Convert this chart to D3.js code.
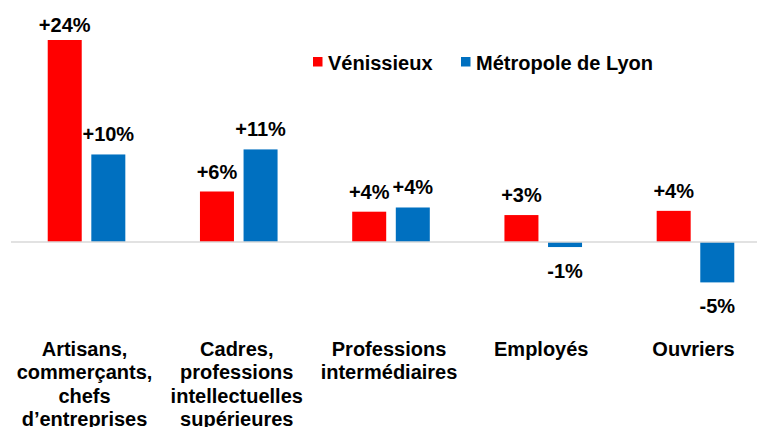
<!DOCTYPE html>
<html lang="fr">
<head>
  <meta charset="UTF-8">
  <title>Evolution CSP</title>
  <script src="https://d3js.org/d3.v7.min.js"></script>
  <style>
    body { margin: 0; background: #fff; }
    text { font-family: "Liberation Sans", Arial, sans-serif; font-weight: bold; fill: #000; }
  </style>
</head>
<body>
  <div id="root"></div>
  <script>
    const categories = ['Artisans', 'Cadres', 'Professions', 'Employes', 'Ouvriers'];
    const categoryLines = [
      ['Artisans,', 'commerçants,', 'chefs', 'd’entreprises'],
      ['Cadres,', 'professions', 'intellectuelles', 'supérieures'],
      ['Professions', 'intermédiaires'],
      ['Employés'],
      ['Ouvriers']
    ];
    const series = ['Vénissieux', 'Métropole de Lyon'];
    const colors = ['#ff0000', '#0070c0'];
    const venissieux = [24, 6, 3.6, 3.2, 3.7];
    const metropole = [10.4, 11, 4.1, -0.6, -4.8];

    const width = 757, height = 427;
    const svg = d3.select('#root').append('svg')
      .attr('width', width).attr('height', height);

    const x0 = d3.scaleBand().domain(categories).range([10.4, 771.6]);
    const x1 = d3.scaleBand().domain(series).range([0, x0.bandwidth()])
      .paddingInner(0.22).paddingOuter(0.856);
    const y = d3.scaleLinear().domain([0, 24]).range([242, 40]);

    const rows = categories.map((c, i) => ({
      cat: c,
      vals: [
        { s: series[0], v: venissieux[i], color: colors[0] },
        { s: series[1], v: metropole[i], color: colors[1] }
      ]
    }));

    const fmt = v => (v > 0 ? '+' : '') + Math.round(v) + '%';

    const g = svg.selectAll('g.grp').data(rows).enter().append('g')
      .attr('class', 'grp')
      .attr('transform', d => `translate(${x0(d.cat)},0)`);

    g.selectAll('rect').data(d => d.vals).enter().append('rect')
      .attr('x', d => x1(d.s))
      .attr('width', x1.bandwidth())
      .attr('y', d => y(Math.max(0, d.v)))
      .attr('height', d => Math.abs(y(d.v) - y(0)))
      .attr('fill', d => d.color);

    g.selectAll('text.val').data(d => d.vals).enter().append('text')
      .attr('class', 'val')
      .attr('x', d => x1(d.s) + x1.bandwidth() / 2)
      .attr('y', d => d.v >= 0 ? Math.max(32, y(d.v) - 13) : y(d.v) + 31)
      .attr('text-anchor', 'middle')
      .style('font-size', '20px')
      .text(d => fmt(d.v));

    // zero line
    svg.append('line')
      .attr('x1', 11).attr('x2', width)
      .attr('y1', y(0)).attr('y2', y(0))
      .attr('stroke', '#d9d9d9').attr('stroke-width', 1.5);

    // category labels
    const lab = svg.selectAll('text.cat').data(categories).enter().append('text')
      .attr('class', 'cat')
      .attr('text-anchor', 'middle')
      .style('font-size', '20px')
      .attr('transform', d => `translate(${x0(d) + x0.bandwidth() / 2 - 2},356)`);
    lab.selectAll('tspan').data((d, i) => categoryLines[i]).enter().append('tspan')
      .attr('x', 0)
      .attr('y', (d, i) => i * 23.4)
      .text(d => d);

    // legend
    const legendX = [313, 461];
    const leg = svg.selectAll('g.leg').data(series).enter().append('g')
      .attr('class', 'leg')
      .attr('transform', (d, i) => `translate(${legendX[i]},57)`);
    leg.append('rect').attr('width', 9.5).attr('height', 9.5)
      .attr('fill', (d, i) => colors[i]);
    leg.append('text').attr('x', 15).attr('y', 13)
      .style('font-size', '20px')
      .text(d => d);
  </script>
</body>
</html>
